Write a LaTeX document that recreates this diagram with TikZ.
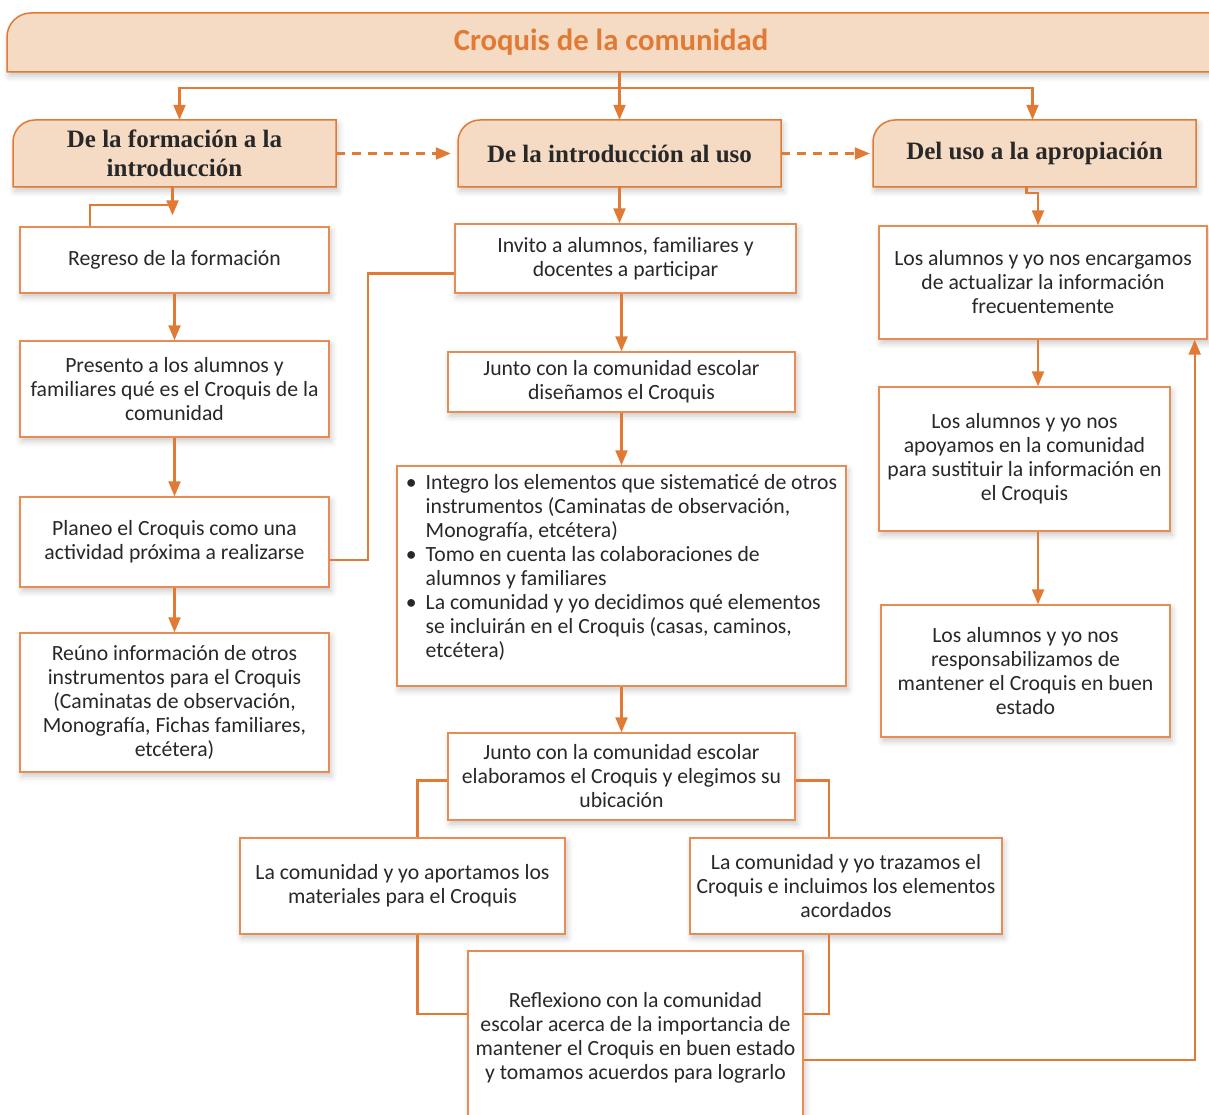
\documentclass[tikz,border=0pt]{standalone}
\usepackage{fontspec}
\setmainfont{Carlito}
\newfontfamily\hdrfont{Liberation Serif}
\usepackage{xcolor}
\usetikzlibrary{arrows.meta,shadows.blur}
\definecolor{orng}{RGB}{224,122,52}
\definecolor{boxline}{RGB}{231,140,82}
\definecolor{peach}{RGB}{246,219,196}
\definecolor{ink}{RGB}{40,40,40}
\tikzset{line/.style={draw=orng, line width=2.2pt}}
\tikzset{arr/.style={line, -{Triangle[length=15pt,width=12pt]}}}
\tikzset{soft/.style={blur shadow={shadow xshift=2pt, shadow yshift=-4pt, shadow blur radius=6pt, shadow opacity=22}}}
\tikzset{box/.style={draw=boxline, fill=white, line width=1.4pt, soft, align=center,
  inner sep=0pt, text=ink, font=\fontsize{21.7}{24}\selectfont}}
\tikzset{hdr/.style={align=center, inner sep=0pt, text=ink,
  font=\hdrfont\bfseries\fontsize{25}{29}\selectfont}}
\tikzset{hdrline/.style={draw=orng, fill=peach, line width=1.5pt, soft}}

\begin{document}
\begin{tikzpicture}[x=1pt, y=-1pt]
\useasboundingbox (0,0) rectangle (1209,1115);

% headers
\draw[hdrline] (7,72) -- (7,37) arc[start angle=180, end angle=90, radius=24pt] -- (1215,13) -- (1215,72) -- cycle;
\draw[hdrline] (13,187) -- (13,142) arc[start angle=180, end angle=90, radius=22pt] -- (336,120) -- (336,187) -- cycle;
\draw[hdrline] (458,187) -- (458,142) arc[start angle=180, end angle=90, radius=22pt] -- (781,120) -- (781,187) -- cycle;
\draw[hdrline] (873,187) -- (873,142) arc[start angle=180, end angle=90, radius=22pt] -- (1196,120) -- (1196,187) -- cycle;
\node[hdr, text=orng, font=\bfseries\fontsize{30.7}{34}\selectfont, minimum width=1208pt, minimum height=59pt] (ttl) at (611,42.5) {Croquis de la comunidad};
\node[hdr, minimum width=323pt, minimum height=67pt] (h1) at (174.5,153.5) {De la formación a la\\introducción};
\node[hdr, minimum width=323pt, minimum height=67pt] (h2) at (619.5,153.5) {De la introducción al uso};
\node[hdr, minimum width=323pt, minimum height=67pt] (h3) at (1034.5,153.5) {Del uso a la apropiación};

% left column
\node[box, minimum width=309pt, minimum height=66pt] (L1) at (174.5,260) {Regreso de la formación};
\node[box, minimum width=309pt, minimum height=96pt] (L2) at (174.5,389) {Presento a los alumnos y\\familiares qué es el Croquis de la\\comunidad};
\node[box, minimum width=309pt, minimum height=90pt] (L3) at (174.5,542) {Planeo el Croquis como una\\actividad próxima a realizarse};
\node[box, minimum width=309pt, minimum height=139pt] (L4) at (174.5,702.5) {Reúno información de otros\\instrumentos para el Croquis\\(Caminatas de observación,\\Monografía, Fichas familiares,\\etcétera)};

% middle column
\node[box, minimum width=341pt, minimum height=69pt] (M1) at (625.5,258.5) {Invito a alumnos, familiares y\\docentes a participar};
\node[box, minimum width=347pt, minimum height=60pt] (M2) at (621.5,382) {Junto con la comunidad escolar\\diseñamos el Croquis};
\node[box, minimum width=449pt, minimum height=220pt] (M3) at (621.5,576) {\begin{tabular}{@{}l@{\hspace{9pt}}l@{}}
\textbullet & Integro los elementos que sistematicé de otros\\
 & instrumentos (Caminatas de observación,\\
 & Monografía, etcétera)\\
\textbullet & Tomo en cuenta las colaboraciones de\\
 & alumnos y familiares\\
\textbullet & La comunidad y yo decidimos qué elementos\\
 & se incluirán en el Croquis (casas, caminos,\\
 & etcétera)\\[14pt]
\end{tabular}};
\node[box, minimum width=347pt, minimum height=87pt] (M4) at (621.5,776.5) {Junto con la comunidad escolar\\elaboramos el Croquis y elegimos su\\ubicación};
\node[box, minimum width=325pt, minimum height=96pt] (M5L) at (402.5,886) {La comunidad y yo aportamos los\\materiales para el Croquis};
\node[box, minimum width=312pt, minimum height=96pt] (M5R) at (846,886) {La comunidad y yo trazamos el\\Croquis e incluimos los elementos\\acordados};
\node[box, minimum width=335pt, minimum height=174pt] (M6) at (635.5,1038) {Reflexiono con la comunidad\\escolar acerca de la importancia de\\mantener el Croquis en buen estado\\y tomamos acuerdos para lograrlo};

% right column
\node[box, minimum width=328pt, minimum height=113pt] (R1) at (1043,282.5) {Los alumnos y yo nos encargamos\\de actualizar la información\\frecuentemente};
\node[box, minimum width=291pt, minimum height=144pt] (R2) at (1024.5,459) {Los alumnos y yo nos\\apoyamos en la comunidad\\para sustituir la información en\\el Croquis};
\node[box, minimum width=289pt, minimum height=132pt] (R3) at (1025.5,671) {Los alumnos y yo nos\\responsabilizamos de\\mantener el Croquis en buen\\estado};

% connectors from the title
\coordinate (split) at (619,88);
\draw[arr] (ttl.south -| h2.north) -- (h2.north);
\draw[arr] (split) -| ([xshift=5pt]h1.north);
\draw[arr] (split) -| ([xshift=-2pt]h3.north);
\draw[arr, dash pattern=on 9pt off 7pt, shorten >=7pt] (h1.east) -- (h2.west);
\draw[arr, dash pattern=on 9pt off 7pt, shorten >=3pt] (h2.east) -- (h3.west);

% left column
\coordinate (j1) at (172,205);
\draw[arr, shorten >=11pt] ([xshift=-2pt]h1.south) -- ([xshift=-2pt]L1.north);
\draw[line] (j1) -| ([xshift=71pt]L1.north west);
\draw[arr] (L1) -- (L2);
\draw[arr] (L2) -- (L3);
\draw[arr] (L3) -- (L4);
\draw[line] ([yshift=-18pt]L3.east) -- ++(38,0) |- ([yshift=-15pt]M1.west);

% middle column
\draw[arr] (h2.south) -- (h2.south |- M1.north);
\draw[arr] (M1.south -| M2.north) -- (M2.north);
\draw[arr] (M2) -- (M3);
\draw[arr] (M3) -- (M4);
\draw[line] ([yshift=-4pt]M4.west) -| ([xshift=15pt]M5L.north);
\draw[line] ([yshift=-4pt]M4.east) -| ([xshift=-17pt]M5R.north);
\draw[line] ([xshift=15pt]M5L.south) |- ([yshift=24pt]M6.west);
\draw[line] ([xshift=-17pt]M5R.south) |- ([yshift=24pt]M6.east);
\draw[arr] ([yshift=-22pt]M6.east) -| ([xshift=-13pt]R1.south east);

% right column
\draw[arr] ([xshift=-8pt]h3.south) -- ++(0,6) -| ([xshift=-5pt]R1.north);
\draw[arr] ([xshift=-5pt]R1.south) -- ([xshift=-5pt]R1.south |- R2.north);
\draw[arr] ([xshift=13.5pt]R2.south) -- ([xshift=13.5pt]R2.south |- R3.north);

\end{tikzpicture}
\end{document}
